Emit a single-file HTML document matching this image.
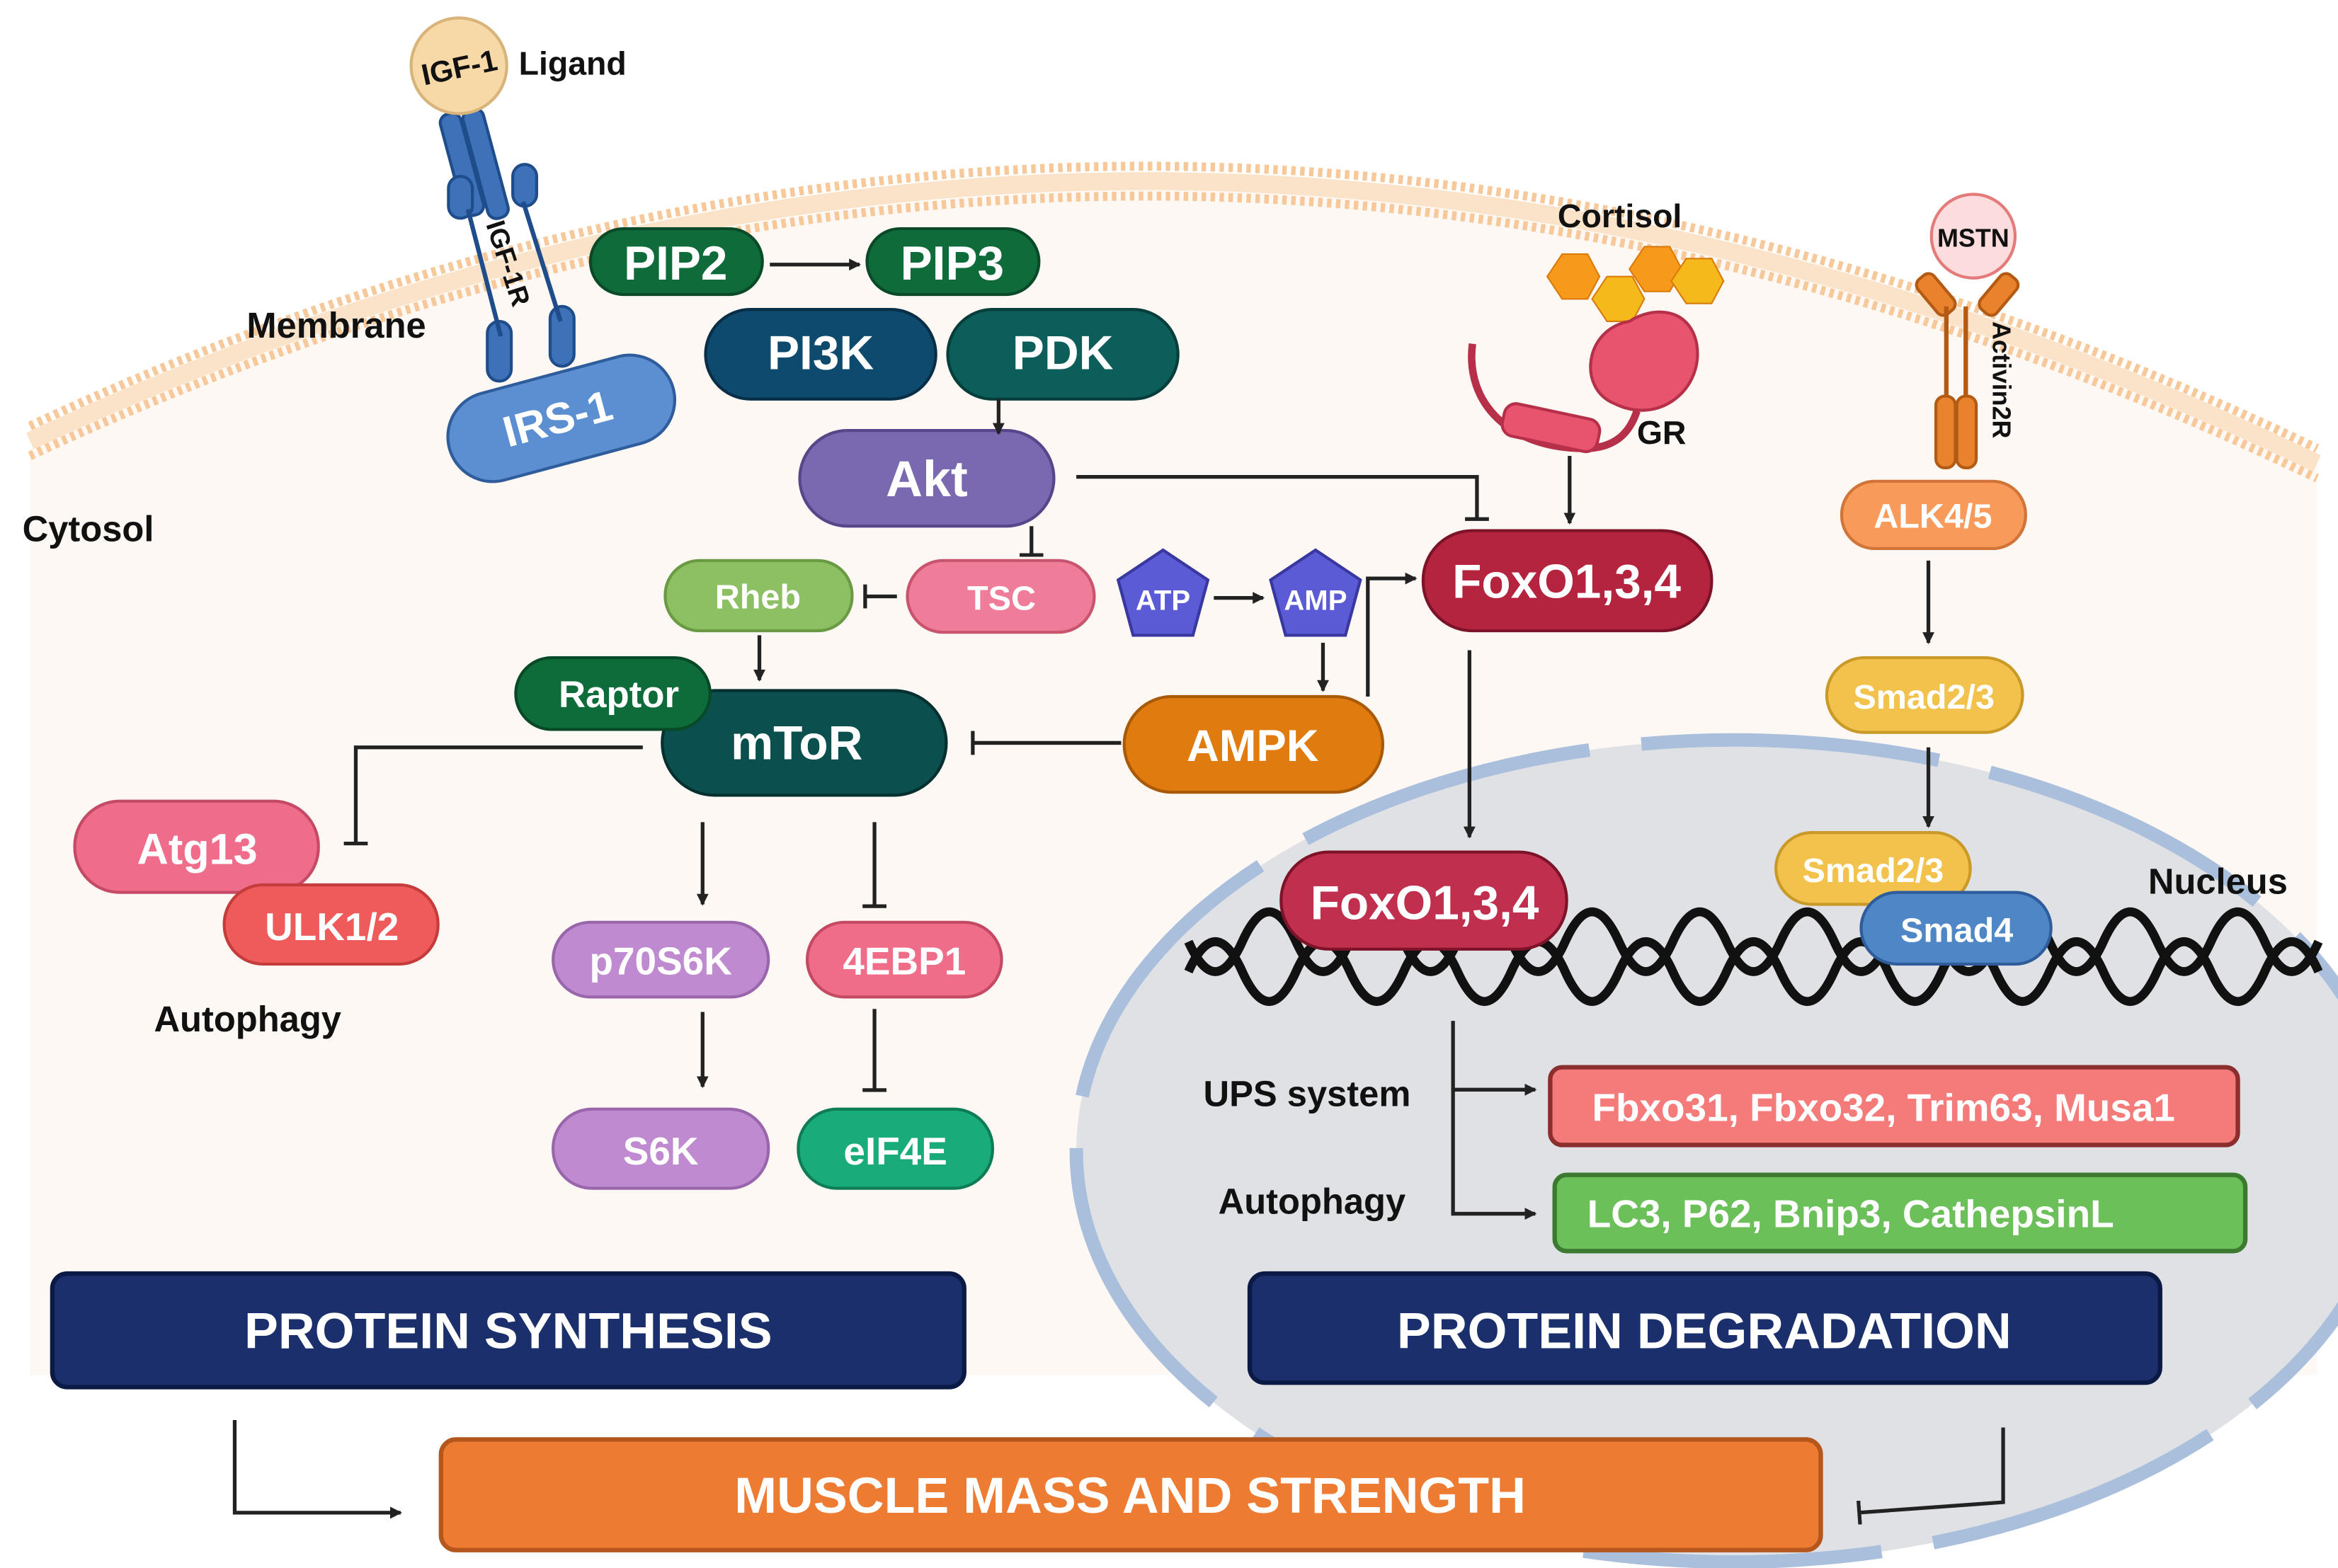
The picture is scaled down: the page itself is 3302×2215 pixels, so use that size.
<!DOCTYPE html>
<html><head><meta charset="utf-8"><style>
html,body{margin:0;padding:0;background:#fff}
svg{display:block}
text{font-family:"Liberation Sans",sans-serif;font-weight:bold}
</style></head><body>
<svg width="3302" height="2215" viewBox="0 0 1564 1049" preserveAspectRatio="none" xmlns="http://www.w3.org/2000/svg">
<defs>
<marker id="ar" markerWidth="8" markerHeight="8" refX="7" refY="4" orient="auto" markerUnits="userSpaceOnUse"><path d="M0,0 L8,4 L0,8 z" fill="#222"/></marker>
<marker id="tb" markerWidth="4" markerHeight="16" refX="2" refY="8" orient="auto" markerUnits="userSpaceOnUse"><rect x="0" y="0" width="2.5" height="16" fill="#222"/></marker>
</defs>
<rect width="1564" height="1049" fill="#fff"/>
<path d="M20,300 Q780,-50 1550,310 L1550,920 L20,920 Z" fill="#fdf8f3"/>
<path d="M20,285 Q780,-70 1550,300" fill="none" stroke="#f7c99a" stroke-width="6" stroke-dasharray="3 3"/>
<path d="M20,305 Q780,-50 1550,320" fill="none" stroke="#f7c99a" stroke-width="6" stroke-dasharray="3 3"/>
<path d="M20,295 Q780,-60 1550,310" fill="none" stroke="#fbe3c9" stroke-width="12"/>
<ellipse cx="1160" cy="770" rx="440" ry="275" fill="#dfe1e4"/>
<ellipse cx="1160" cy="770" rx="440" ry="275" fill="none" stroke="#a9bfdb" stroke-width="9" stroke-dasharray="200 35"/>
<text x="1437" y="598" font-size="24" fill="#111">Nucleus</text>
<path d="M795,630 q18,40 36,0 t36,0 t36,0 t36,0 t36,0 t36,0 t36,0 t36,0 t36,0 t36,0 t36,0 t36,0 t36,0 t36,0 t36,0 t36,0 t36,0 t36,0 t36,0 t36,0 t36,0" fill="none" stroke="#111" stroke-width="6"/>
<path d="M795,650 q18,-40 36,0 t36,0 t36,0 t36,0 t36,0 t36,0 t36,0 t36,0 t36,0 t36,0 t36,0 t36,0 t36,0 t36,0 t36,0 t36,0 t36,0 t36,0 t36,0 t36,0 t36,0" fill="none" stroke="#111" stroke-width="6"/>
<text x="15" y="362" font-size="24" fill="#111">Cytosol</text>
<text x="165" y="226" font-size="24" fill="#111">Membrane</text>
<text x="103" y="690" font-size="24" fill="#111">Autophagy</text>
<text x="805" y="740" font-size="24" fill="#111">UPS system</text>
<text x="815" y="812" font-size="24" fill="#111">Autophagy</text>
<text x="1042" y="152" font-size="22" fill="#111">Cortisol</text>
<text x="1095" y="297" font-size="22" fill="#111">GR</text>
<text x="347" y="50" font-size="22" fill="#111">Ligand</text>
<g fill="#3e72b8" stroke="#1f4d8c" stroke-width="2">
<rect x="302" y="75" width="14" height="70" rx="6" transform="rotate(-15 309 110)"/>
<rect x="318" y="72" width="14" height="75" rx="6" transform="rotate(-15 325 110)"/>
<rect x="300" y="118" width="16" height="28" rx="8"/>
<rect x="343" y="110" width="16" height="28" rx="8"/>
<rect x="326" y="215" width="16" height="40" rx="8"/>
<rect x="368" y="205" width="16" height="40" rx="8"/>
</g>
<line x1="313" y1="140" x2="335" y2="225" stroke="#1f4d8c" stroke-width="3"/>
<line x1="350" y1="135" x2="375" y2="215" stroke="#1f4d8c" stroke-width="3"/>
<text x="325" y="150" font-size="18" fill="#111" transform="rotate(72 325 150)">IGF-1R</text>
<circle cx="307" cy="44" r="32" fill="#f7d9a8" stroke="#d9b47a" stroke-width="2"/>
<text x="307" y="52" font-size="20" fill="#111" text-anchor="middle" transform="rotate(-12 307 44)">IGF-1</text>
<rect x="298" y="250" width="155" height="60" rx="30" fill="#5b8fd1" stroke="#2f5d9c" stroke-width="2" transform="rotate(-15 375 280)"/>
<text x="373" y="290" font-size="29" fill="#fff" text-anchor="middle" transform="rotate(-15 373 280)">IRS-1</text>
<g stroke-width="2">
<rect x="395" y="153" width="115" height="44" rx="22" fill="#0f6b3a" stroke="#0a4a28"/>
<rect x="580" y="153" width="115" height="44" rx="22" fill="#0f6b3a" stroke="#0a4a28"/>
<rect x="472" y="207" width="154" height="60" rx="30" fill="#0d4a6e" stroke="#082f47"/>
<rect x="634" y="207" width="154" height="60" rx="30" fill="#0b5e5a" stroke="#073e3b"/>
<rect x="535" y="288" width="170" height="64" rx="32" fill="#7a68b0" stroke="#57478a"/>
<rect x="607" y="375" width="125" height="48" rx="24" fill="#ef7c98" stroke="#c95470"/>
<rect x="445" y="375" width="125" height="47" rx="23" fill="#8cc063" stroke="#6a9a44"/>
<rect x="952" y="355" width="193" height="67" rx="33" fill="#b5243f" stroke="#7d1328"/>
<rect x="443" y="462" width="190" height="70" rx="35" fill="#0b4f4f" stroke="#062f2f"/>
<rect x="345" y="440" width="130" height="48" rx="24" fill="#0e6b3a" stroke="#084a27"/>
<rect x="752" y="466" width="173" height="64" rx="32" fill="#e07b10" stroke="#a85a08"/>
<rect x="50" y="536" width="163" height="61" rx="30" fill="#ef6d8a" stroke="#c44a66"/>
<rect x="150" y="592" width="143" height="53" rx="26" fill="#ef5a5a" stroke="#c43c3c"/>
<rect x="370" y="617" width="144" height="50" rx="25" fill="#c08ad0" stroke="#9a66ab"/>
<rect x="540" y="617" width="130" height="50" rx="25" fill="#ef6d88" stroke="#c44a64"/>
<rect x="370" y="742" width="144" height="53" rx="26" fill="#c08ad0" stroke="#9a66ab"/>
<rect x="534" y="742" width="130" height="53" rx="26" fill="#1aab7a" stroke="#0e7c57"/>
<rect x="857" y="570" width="191" height="65" rx="32" fill="#c02f4e" stroke="#7d1328"/>
<rect x="1222" y="440" width="131" height="50" rx="25" fill="#f3c24c" stroke="#c99a28"/>
<rect x="1188" y="557" width="130" height="48" rx="24" fill="#f3c24c" stroke="#c99a28"/>
<rect x="1245" y="597" width="127" height="48" rx="24" fill="#4f86c6" stroke="#2f5d9c"/>
<rect x="1232" y="322" width="123" height="45" rx="22" fill="#f79a5a" stroke="#d07438"/>
<rect x="1037" y="714" width="460" height="52" rx="8" fill="#f57a7a" stroke="#8a2e2e" stroke-width="3"/>
<rect x="1040" y="786" width="462" height="51" rx="8" fill="#6cc05a" stroke="#3b7a30" stroke-width="3"/>
<rect x="35" y="852" width="610" height="76" rx="10" fill="#1a2f6b" stroke="#0b1a44" stroke-width="3"/>
<rect x="836" y="852" width="609" height="73" rx="10" fill="#1a2f6b" stroke="#0b1a44" stroke-width="3"/>
<rect x="295" y="963" width="923" height="74" rx="10" fill="#ee7b32" stroke="#b5561c" stroke-width="3"/>
</g>
<polygon points="778,368 808,388 798,425 758,425 748,388" fill="#5b5bd6" stroke="#3838a0" stroke-width="2"/>
<polygon points="880,368 910,388 900,425 860,425 850,388" fill="#5b5bd6" stroke="#3838a0" stroke-width="2"/>
<g fill="#fff" text-anchor="middle">
<text x="452" y="187" font-size="32">PIP2</text>
<text x="637" y="187" font-size="32">PIP3</text>
<text x="549" y="247" font-size="32">PI3K</text>
<text x="711" y="247" font-size="32">PDK</text>
<text x="620" y="332" font-size="34">Akt</text>
<text x="670" y="408" font-size="23">TSC</text>
<text x="507" y="407" font-size="23">Rheb</text>
<text x="1048" y="400" font-size="32">FoxO1,3,4</text>
<text x="533" y="508" font-size="32">mToR</text>
<text x="414" y="473" font-size="25">Raptor</text>
<text x="838" y="509" font-size="30">AMPK</text>
<text x="132" y="578" font-size="29">Atg13</text>
<text x="222" y="629" font-size="26">ULK1/2</text>
<text x="442" y="652" font-size="26">p70S6K</text>
<text x="605" y="652" font-size="26">4EBP1</text>
<text x="442" y="779" font-size="26">S6K</text>
<text x="599" y="779" font-size="26">eIF4E</text>
<text x="953" y="615" font-size="32">FoxO1,3,4</text>
<text x="1287" y="474" font-size="23">Smad2/3</text>
<text x="1253" y="590" font-size="23">Smad2/3</text>
<text x="1309" y="630" font-size="23">Smad4</text>
<text x="1293" y="353" font-size="23">ALK4/5</text>
<text x="778" y="408" font-size="19">ATP</text>
<text x="880" y="408" font-size="19">AMP</text>
<text x="1260" y="750" font-size="26">Fbxo31, Fbxo32, Trim63, Musa1</text>
<text x="1238" y="821" font-size="26">LC3, P62, Bnip3, CathepsinL</text>
<text x="340" y="902" font-size="34">PROTEIN SYNTHESIS</text>
<text x="1140" y="902" font-size="34">PROTEIN DEGRADATION</text>
<text x="756" y="1012" font-size="34">MUSCLE MASS AND STRENGTH</text>
</g>
<g fill="#f79a1c" stroke="#d97a0a" stroke-width="1">
<polygon points="1035,185 1045,170 1062,170 1070,185 1062,200 1045,200"/>
<polygon points="1065,200 1075,185 1092,185 1100,200 1092,215 1075,215" fill="#f5b91c"/>
<polygon points="1090,180 1100,165 1117,165 1125,180 1117,195 1100,195"/>
<polygon points="1118,188 1128,173 1145,173 1153,188 1145,203 1128,203" fill="#f5b91c"/>
</g>
<path d="M1090,215 C1060,220 1055,260 1080,270 C1110,285 1140,260 1135,230 C1130,205 1105,205 1090,215 Z" fill="#e8546e" stroke="#b53048" stroke-width="2"/>
<path d="M985,230 C980,270 1010,300 1060,300 C1080,300 1090,290 1095,275" fill="none" stroke="#b53048" stroke-width="5"/>
<rect x="1005" y="275" width="65" height="22" rx="8" fill="#e8546e" stroke="#b53048" stroke-width="2" transform="rotate(12 1037 286)"/>
<circle cx="1320" cy="158" r="28" fill="#fcdcdc" stroke="#e47a7a" stroke-width="2"/>
<text x="1320" y="165" font-size="17" fill="#111" text-anchor="middle">MSTN</text>
<g fill="#e8822c" stroke="#b35a14" stroke-width="2">
<rect x="1288" y="182" width="14" height="30" rx="5" transform="rotate(-40 1295 197)"/>
<rect x="1330" y="182" width="14" height="30" rx="5" transform="rotate(40 1337 197)"/>
<rect x="1295" y="265" width="13" height="48" rx="6"/>
<rect x="1309" y="265" width="13" height="48" rx="6"/>
</g>
<line x1="1302" y1="205" x2="1302" y2="265" stroke="#b35a14" stroke-width="3"/>
<line x1="1315" y1="205" x2="1315" y2="265" stroke="#b35a14" stroke-width="3"/>
<text x="1333" y="215" font-size="17" fill="#111" transform="rotate(90 1333 215)">Activin2R</text>
<g stroke="#222" stroke-width="2.5" fill="none">
<line x1="515" y1="177" x2="575" y2="177" marker-end="url(#ar)"/>
<line x1="668" y1="267" x2="668" y2="290" marker-end="url(#ar)"/>
<polyline points="720,319 988,319 988,348" marker-end="url(#tb)"/>
<line x1="1050" y1="305" x2="1050" y2="350" marker-end="url(#ar)"/>
<line x1="690" y1="352" x2="690" y2="372" marker-end="url(#tb)"/>
<line x1="600" y1="399" x2="578" y2="399" marker-end="url(#tb)"/>
<line x1="508" y1="425" x2="508" y2="455" marker-end="url(#ar)"/>
<line x1="812" y1="400" x2="845" y2="400" marker-end="url(#ar)"/>
<line x1="885" y1="430" x2="885" y2="462" marker-end="url(#ar)"/>
<polyline points="915,466 915,387 947,387" marker-end="url(#ar)"/>
<line x1="750" y1="497" x2="650" y2="497" marker-end="url(#tb)"/>
<polyline points="430,500 238,500 238,565" marker-end="url(#tb)"/>
<line x1="470" y1="550" x2="470" y2="605" marker-end="url(#ar)"/>
<line x1="585" y1="550" x2="585" y2="607" marker-end="url(#tb)"/>
<line x1="470" y1="677" x2="470" y2="727" marker-end="url(#ar)"/>
<line x1="585" y1="675" x2="585" y2="730" marker-end="url(#tb)"/>
<line x1="983" y1="435" x2="983" y2="560" marker-end="url(#ar)"/>
<line x1="1290" y1="375" x2="1290" y2="430" marker-end="url(#ar)"/>
<line x1="1290" y1="500" x2="1290" y2="553" marker-end="url(#ar)"/>
<polyline points="972,683 972,812 1027,812" marker-end="url(#ar)"/>
<line x1="972" y1="729" x2="1027" y2="729" marker-end="url(#ar)"/>
<polyline points="157,950 157,1012 268,1012" marker-end="url(#ar)"/>
<polyline points="1340,955 1340,1005 1243,1012" marker-end="url(#tb)"/>
</g>
</svg>
</body></html>
